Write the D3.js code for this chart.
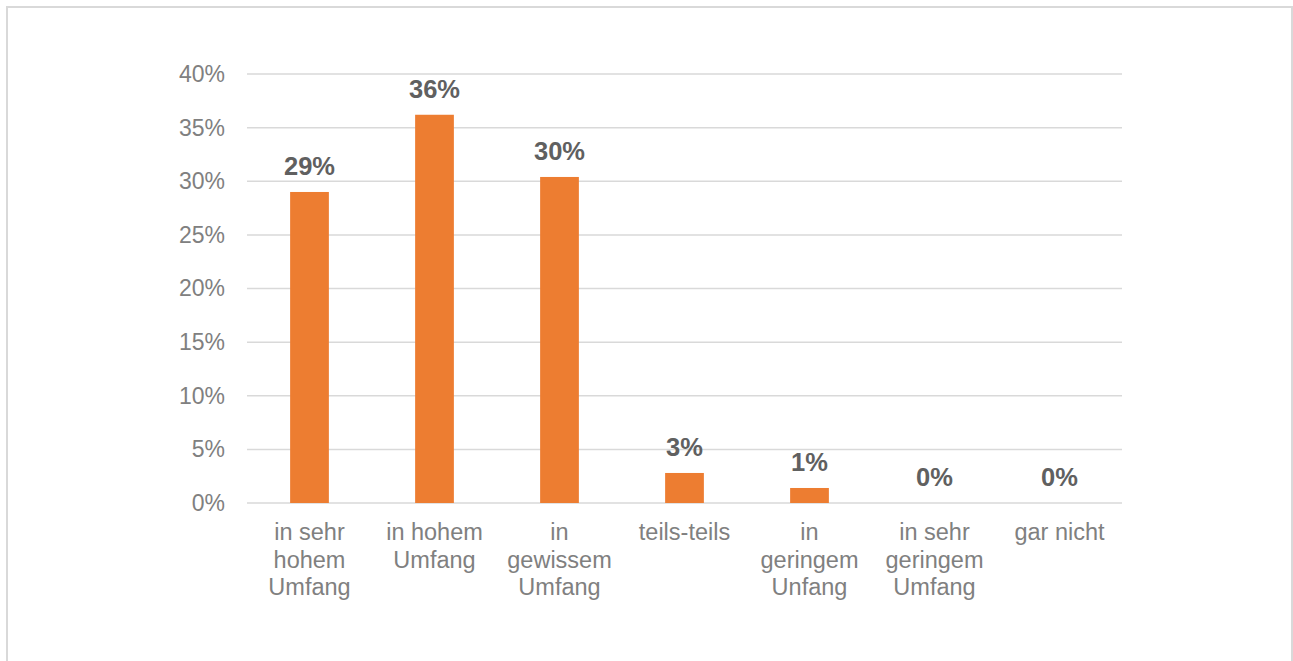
<!DOCTYPE html>
<html>
<head>
<meta charset="utf-8">
<script src="https://cdn.jsdelivr.net/npm/d3@7"></script>
<style>
	body { margin: 0; background: #fff; }
	svg { display: block; font-family: "Liberation Sans", Arial, sans-serif; }
</style>
</head>
<body>
<svg id="chart"></svg>
<script>
// data
var categories = [
	["in sehr", "hohem", "Umfang"],
	["in hohem", "Umfang"],
	["in", "gewissem", "Umfang"],
	["teils-teils"],
	["in", "geringem", "Unfang"],
	["in sehr", "geringem", "Umfang"],
	["gar nicht"]
];
var values = [29.0, 36.2, 30.4, 2.8, 1.4, 0, 0];
var labels = ["29%", "36%", "30%", "3%", "1%", "0%", "0%"];
var yTicks = [0, 5, 10, 15, 20, 25, 30, 35, 40];

var W = 1293, H = 661;
var svg = d3.select("#chart").attr("width", W).attr("height", H);

// outer frame
svg.append("rect")
	.attr("x", 7).attr("y", 7)
	.attr("width", 1285).attr("height", 670)
	.attr("fill", "#fff").attr("stroke", "#d9d9d9").attr("stroke-width", 2);

var pl = 247, pr = 1122, pt = 74, pb = 503;

var x = d3.scaleBand().domain(d3.range(categories.length))
	.range([pl, pr]).paddingInner(0.69).paddingOuter(0.345);
var y = d3.scaleLinear().domain([0, 40]).range([pb, pt]);

// grid
var g = svg.append("g");
g.selectAll(".grid").data(yTicks).enter().append("line")
	.attr("x1", pl).attr("x2", pr)
	.attr("y1", function(d){ return y(d); })
	.attr("y2", function(d){ return y(d); })
	.attr("stroke", "#d9d9d9").attr("stroke-width", 1.5);

// y axis labels
var yAxis = d3.axisLeft(y).tickValues(yTicks)
	.tickFormat(function(d){ return d + "%"; })
	.tickSize(0).tickPadding(22);
var ya = svg.append("g").attr("transform", "translate(" + pl + ",0)").call(yAxis);
ya.select(".domain").remove();
ya.selectAll("text").attr("font-size", 23).attr("fill", "#808080")
	.attr("font-family", "Liberation Sans, Arial, sans-serif");

// bars
g.selectAll(".bar").data(values).enter().append("rect")
	.attr("x", function(d, i){ return x(i); })
	.attr("width", x.bandwidth())
	.attr("y", function(d){ return y(d); })
	.attr("height", function(d){ return pb - y(d); })
	.attr("fill", "#ed7d31");

// data labels
g.selectAll(".lbl").data(values).enter().append("text")
	.attr("x", function(d, i){ return x(i) + x.bandwidth() / 2; })
	.attr("y", function(d){ return y(d) - 17; })
	.attr("text-anchor", "middle")
	.attr("font-size", 25.5).attr("font-weight", "bold").attr("fill", "#606060")
	.text(function(d, i){ return labels[i]; });

// category labels
var cat = g.selectAll(".cat").data(categories).enter().append("text")
	.attr("text-anchor", "middle")
	.attr("font-size", 23.5).attr("fill", "#808080")
	.attr("transform", function(d, i){
		return "translate(" + (x(i) + x.bandwidth() / 2) + "," + 540 + ")";
	});
cat.selectAll("tspan").data(function(d){ return d; }).enter().append("tspan")
	.attr("x", 0)
	.attr("y", function(d, i){ return i * 27.5; })
	.text(function(d){ return d; });
</script>
</body>
</html>
